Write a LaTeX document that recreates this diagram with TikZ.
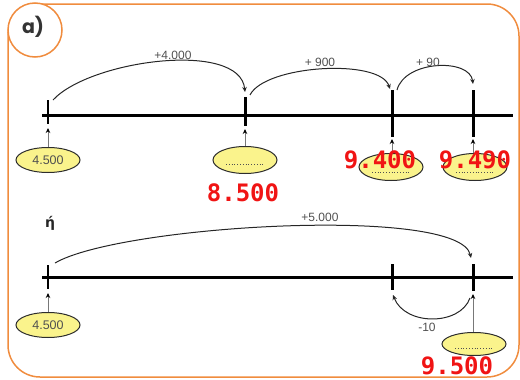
\documentclass[tikz,border=0pt]{standalone}
\usepackage{fontspec}
\setmainfont{Liberation Sans}
\newfontfamily\redfont{DejaVu Sans Mono}
\newfontfamily\titlefont{Poppins}
\newfontfamily\greekfont{DejaVu Sans}
\usetikzlibrary{shapes.geometric,arrows.meta}
\definecolor{frameorange}{RGB}{240,140,62}
\definecolor{labgray}{RGB}{80,80,80}
\definecolor{ovalfill}{RGB}{250,243,140}
\definecolor{ovalline}{RGB}{45,45,45}
\definecolor{ansred}{RGB}{240,20,20}
\definecolor{ptrgray}{RGB}{120,120,120}
\begin{document}
\begin{tikzpicture}[x=1pt,y=-1pt,
  lab/.style={font=\fontsize{12}{14}\selectfont, text=labgray, inner sep=0pt},
  oval/.style={ellipse, draw=ovalline, line width=1pt, fill=ovalfill, minimum width=64pt, minimum height=25pt, inner sep=0pt, font=\fontsize{12.5}{14}\selectfont, text=labgray},
  ans/.style={font=\redfont\bfseries\fontsize{24}{26}\selectfont, text=ansred, inner sep=0pt},
  axis/.style={line width=3pt},
  thintick/.style={line width=1.6pt},
  thicktick/.style={line width=3pt},
  jump/.style={line width=1pt, draw=black!85, -{Stealth[length=5pt,width=4.5pt]}},
  ptr/.style={line width=1pt, draw=ptrgray, -{Stealth[length=5pt,width=4.5pt,color=black]}},
  blankline/.style={draw=labgray, line width=0.8pt, dash pattern=on 0.8pt off 2pt},
  frame/.style={draw=frameorange, line width=1.5pt}
]
\useasboundingbox (0,0) rectangle (520,380);
% frame
\draw[frame, rounded corners=32pt] (8,4) rectangle (519,377);
\node[circle, draw=frameorange, line width=1.5pt, fill=white, minimum size=54pt, inner sep=0pt] (title) at (35,30) {};
\node[font=\titlefont\bfseries\fontsize{19}{20}\selectfont, text=black!80, inner sep=0pt] (titletext) at (33,27) {a)};

% ---- first number line ----
\draw[axis] (42,115) -- (513,115);
\draw[thintick] (48,100) -- (48,124);
\draw[thicktick] (245,97) -- (245,126);
\draw[thicktick] (392,90) -- (392,137);
\draw[thicktick] (473,90) -- (473,137);

\coordinate (p1) at (48,128);
\coordinate (p2) at (245,129);
\coordinate (p3) at (392,139);
\coordinate (p4) at (473,139);

\node[oval] (e1) at (48,160) {4.500};
\node[oval, minimum height=27pt] (e2) at (245,160) {};
\node[oval, minimum height=27pt] (e3) at (391,167) {};
\node[oval, minimum height=27pt] (e4) at (475,167) {};
\draw[blankline] ([xshift=-19pt,yshift=-4pt]e2.center) -- ([xshift=19pt,yshift=-4pt]e2.center);
\draw[blankline] ([xshift=-19pt,yshift=-5pt]e3.center) -- ([xshift=19pt,yshift=-5pt]e3.center);
\draw[blankline] ([xshift=-19pt,yshift=-5pt]e4.center) -- ([xshift=19pt,yshift=-5pt]e4.center);

\draw[ptr] (e1) -- (p1);
\draw[ptr] (e2) -- (p2);
\draw[ptr] (e3.north -| p3) -- (p3);
\draw[ptr] (e4.north -| p4) -- (p4);

\coordinate (a1s) at (53,100);
\coordinate (a1e) at (245,92);
\coordinate (a2s) at (250,95);
\coordinate (a2e) at (390,89);
\coordinate (a3s) at (397,90);
\coordinate (a3e) at (473,84);
\draw[jump] (a1s) .. controls (90,60) and (240,40) .. (a1e);
\draw[jump] (a2s) .. controls (265,65) and (380,58) .. (a2e);
\draw[jump] (a3s) .. controls (405,60) and (470,58) .. (a3e);
\node[lab] (l1) at (173,55) {+4.000};
\node[lab] (l2) at (320,62) {+ 900};
\node[lab] (l3) at (428,62) {+ 90};

\node[ans] (r2) at (243,193) {8.500};
\node[ans] (r3) at (380,160) {9.400};
\node[ans] (r4) at (475,160) {9.490};

% ---- second number line ----
\node[font=\greekfont\bfseries\fontsize{14}{16}\selectfont, text=black!85, inner sep=0pt] (eta) at (50,223) {ή};
\draw[axis] (42,277) -- (513,277);
\draw[thintick] (48,265) -- (48,289);
\draw[thicktick] (392,264) -- (392,290);
\draw[thicktick] (473,264) -- (473,291);

\coordinate (q1) at (48,293);
\coordinate (q4) at (473,294);
\node[oval] (f1) at (48,325) {4.500};
\node[oval, minimum height=23pt] (f4) at (474,344) {};
\draw[blankline] ([xshift=-19pt,yshift=-4pt]f4.center) -- ([xshift=19pt,yshift=-4pt]f4.center);
\draw[ptr] (f1) -- (q1);
\draw[ptr] (f4.north -| q4) -- (q4);

\coordinate (b1s) at (55,263);
\coordinate (b1e) at (471,258);
\coordinate (b2s) at (470,298);
\coordinate (b2e) at (393,295);
\draw[jump] (b1s) .. controls (120,225) and (460,205) .. (b1e);
\draw[jump] (b2s) .. controls (460,326) and (405,326) .. (b2e);
\node[lab] (m1) at (320,217) {+5.000};
\node[lab] (m2) at (427,327) {-10};

\node[ans] (s4) at (457,366) {9.500};
\end{tikzpicture}
\end{document}
